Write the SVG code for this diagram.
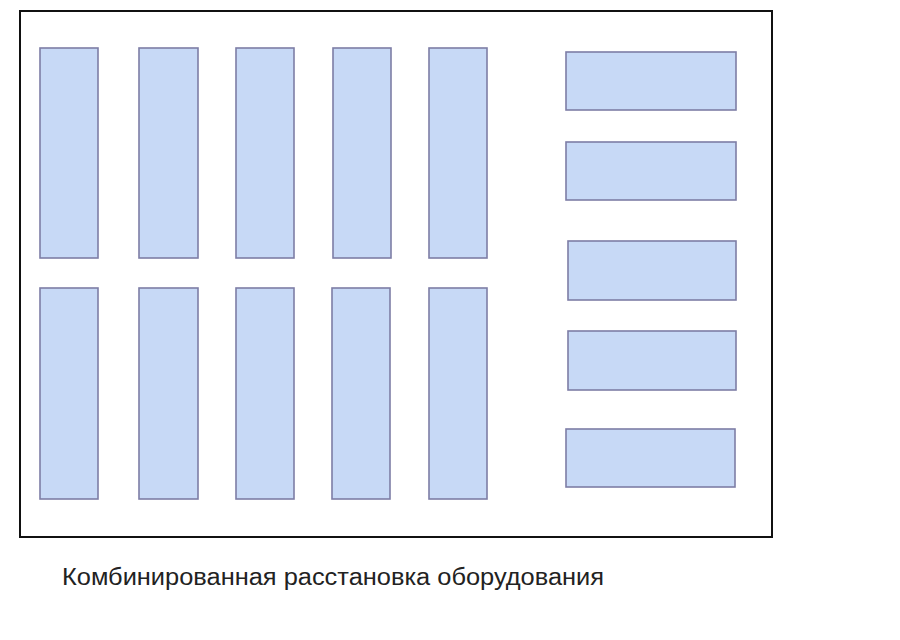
<svg xmlns="http://www.w3.org/2000/svg" width="900" height="640" viewBox="0 0 900 640">
<style>
.eq{fill:#c7d9f6;stroke:#7d7da6;stroke-width:1.6}
.border{fill:#fff;stroke:#111;stroke-width:2}
.cap{font-family:"Liberation Sans",Arial,sans-serif;font-size:23px;fill:#222}
</style>
<rect width="900" height="640" fill="#fff"/>
<g id="room"><rect class="border" x="20" y="11" width="752" height="526"/></g>
<g id="v1"><rect class="eq" x="40" y="48" width="58" height="210"/></g>
<g id="v2"><rect class="eq" x="139" y="48" width="59" height="210"/></g>
<g id="v3"><rect class="eq" x="236" y="48" width="58" height="210"/></g>
<g id="v4"><rect class="eq" x="333" y="48" width="58" height="210"/></g>
<g id="v5"><rect class="eq" x="429" y="48" width="58" height="210"/></g>
<g id="v6"><rect class="eq" x="40" y="288" width="58" height="211"/></g>
<g id="v7"><rect class="eq" x="139" y="288" width="59" height="211"/></g>
<g id="v8"><rect class="eq" x="236" y="288" width="58" height="211"/></g>
<g id="v9"><rect class="eq" x="332" y="288" width="58" height="211"/></g>
<g id="v10"><rect class="eq" x="429" y="288" width="58" height="211"/></g>
<g id="h1"><rect class="eq" x="566" y="52" width="170" height="58"/></g>
<g id="h2"><rect class="eq" x="566" y="142" width="170" height="58"/></g>
<g id="h3"><rect class="eq" x="568" y="241" width="168" height="59"/></g>
<g id="h4"><rect class="eq" x="568" y="331" width="168" height="59"/></g>
<g id="h5"><rect class="eq" x="566" y="429" width="169" height="58"/></g>
<g id="connectors"></g>
<text class="cap" x="62" y="585" textLength="542" lengthAdjust="spacingAndGlyphs">Комбинированная расстановка оборудования</text>
</svg>
